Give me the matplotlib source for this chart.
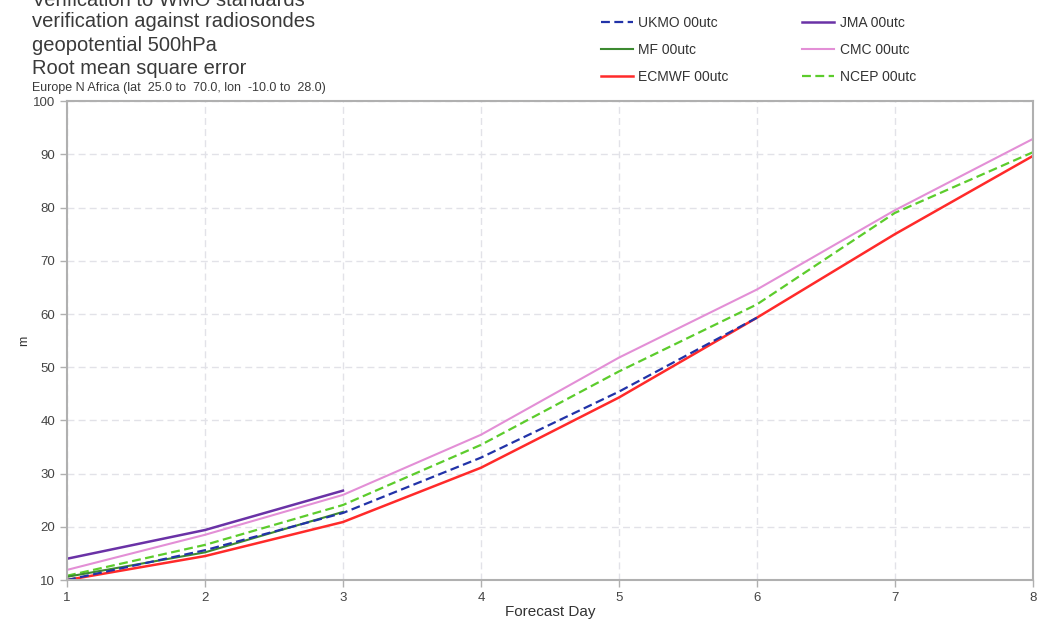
import matplotlib.pyplot as plt

plt.rcParams['font.family'] = ['Liberation Sans', 'DejaVu Sans']

days = [1, 2, 3, 4, 5, 6, 7, 8]

ukmo = [10.0, 15.6, 22.6, 33.0, 45.4, 59.3]
jma = [14.0, 19.4, 26.8]
mf = [10.6, 15.2, 22.8]
cmc = [11.9, 18.5, 26.0, 37.3, 51.8, 64.6, 79.5, 92.9]
ecmwf = [10.0, 14.5, 20.9, 31.1, 44.3, 59.3, 75.0, 89.7]
ncep = [10.8, 16.6, 24.1, 35.4, 49.2, 61.8, 79.0, 90.4]

fig = plt.figure(figsize=(10.39, 6.21), dpi=100)
ax = fig.add_axes([0.0645, 0.066, 0.9295, 0.771])

ax.plot(days[:len(cmc)], cmc, color='#e38fd6', lw=1.5, label='CMC 00utc')
ax.plot(days[:len(ecmwf)], ecmwf, color='#ff2a2a', lw=1.8, label='ECMWF 00utc')
ax.plot(days[:len(ncep)], ncep, color='#5ccc2c', lw=1.6, ls=(0, (4, 2)), label='NCEP 00utc')
ax.plot(days[:len(mf)], mf, color='#3d8a30', lw=1.5, label='MF 00utc')
ax.plot(days[:len(ukmo)], ukmo, color='#2233a8', lw=1.6, ls=(0, (4, 2)), label='UKMO 00utc')
ax.plot(days[:len(jma)], jma, color='#6a32a6', lw=1.8, label='JMA 00utc')

ax.set_xlim(1, 8)
ax.set_ylim(10, 100)
ax.set_xticks(days)
ax.set_yticks(range(10, 101, 10))
ax.grid(True, color='#e2e2e8', ls=(0, (5, 3)), lw=1)
for s in ax.spines.values():
    s.set_color('#b0b0b0')
    s.set_linewidth(1.5)
ax.tick_params(colors='#b0b0b0', labelcolor='#444444', labelsize=9.5, length=5, width=1)
ax.set_xlabel('Forecast Day', fontsize=11, color='#333333', labelpad=1)
ax.set_ylabel('m', fontsize=9, color='#333333', rotation=90, labelpad=2)

tc = '#3a3a3a'
fig.text(0.031, 1.0, 'Verification to WMO standards', fontsize=14.5, color=tc, va='center')
fig.text(0.031, 0.966, 'verification against radiosondes', fontsize=14.5, color=tc, va='center')
fig.text(0.031, 0.927, 'geopotential 500hPa', fontsize=14.5, color=tc, va='center')
fig.text(0.031, 0.890, 'Root mean square error', fontsize=14.5, color=tc, va='center')
fig.text(0.031, 0.858, 'Europe N Africa (lat  25.0 to  70.0, lon  -10.0 to  28.0)', fontsize=9,
         color=tc, va='center')

h, l = ax.get_legend_handles_labels()
order = ['UKMO 00utc', 'MF 00utc', 'ECMWF 00utc', 'JMA 00utc', 'CMC 00utc', 'NCEP 00utc']
hs = [h[l.index(o)] for o in order]
fig.legend(hs, order, loc='upper left', bbox_to_anchor=(0.566, 0.995), ncol=2, frameon=False,
           fontsize=10, handlelength=2.3, handletextpad=0.4, columnspacing=5.3,
           labelspacing=0.95, labelcolor='#333333')

fig.savefig('out.png', dpi=100)
